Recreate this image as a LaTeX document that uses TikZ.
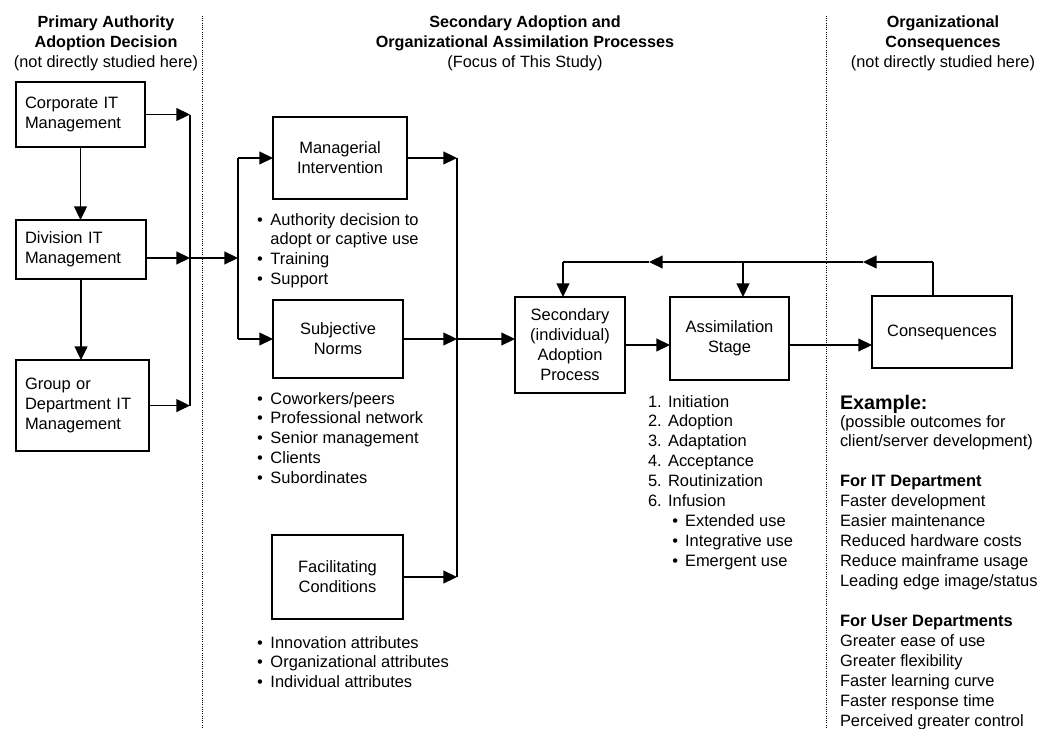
\documentclass[tikz,border=0pt]{standalone}
\usepackage{fontspec}
\setmainfont{Liberation Sans}
\usetikzlibrary{arrows.meta, calc, positioning}

\newcommand{\bodyfont}{\fontsize{11.7}{14.2}\selectfont}
\newcommand{\headfont}{\fontsize{11.5}{14.2}\selectfont\bfseries}
\newcommand{\subfont}{\fontsize{11.6}{14.2}\selectfont}

\tikzstyle{box} = [rectangle, draw=black, line width=1.05pt, inner sep=0pt, outer sep=0pt, font=\bodyfont, align=center]
\tikzstyle{leftbox} = [box, align=left, inner xsep=0.225cm]
\tikzstyle{list} = [inner sep=0pt, outer sep=0pt, font=\bodyfont, anchor=base west]
\tikzstyle{head} = [inner sep=0pt, outer sep=0pt, font=\bodyfont, anchor=base]
\tikzstyle{divider} = [densely dotted, line width=0.6pt]
\tikzset{
	FARROW/.style={line width=1.05pt, arrows={-Triangle[length=3.4mm, width=3.2mm]}},
	LINE/.style={line width=1.05pt}
}

\begin{document}
\begin{tikzpicture}[x=0.025cm, y=-0.025cm]
	\useasboundingbox (0,0) rectangle (1042,729);
	% column headers
	\node (hleft) [head] at (106,28) {\begin{tabular}[t]{@{}c@{}}\headfont Primary Authority\\ \headfont Adoption Decision\\ \subfont (not directly studied here)\end{tabular}};
	\node (hmid) [head] at (525,28) {\begin{tabular}[t]{@{}c@{}}\headfont Secondary Adoption and\\ \headfont Organizational Assimilation Processes\\ \subfont (Focus of This Study)\end{tabular}};
	\node (hright) [head] at (943,28) {\begin{tabular}[t]{@{}c@{}}\headfont Organizational\\ \headfont Consequences\\ \subfont (not directly studied here)\end{tabular}};
	% dividers
	\coordinate (dtopl) at (202,16);
	\coordinate (dbotl) at (202,729);
	\coordinate (dtopr) at (826,16);
	\coordinate (dbotr) at (826,729);
	\draw [divider] (dtopl) -- (dbotl);
	\draw [divider] (dtopr) -- (dbotr);
	% primary adoption
	\node (corp) [leftbox, minimum width=3.225cm, minimum height=1.625cm, text width=2.775cm, anchor=north west] at (16,82) {Corporate IT\\Management};
	\node (div) [leftbox, minimum width=3.25cm, minimum height=1.475cm, text width=2.8cm, below=1.825cm of corp.south west, anchor=north west] {Division IT\\Management};
	\node (grp) [leftbox, minimum width=3.325cm, minimum height=2.275cm, text width=2.875cm, below=2.025cm of div.south west, anchor=north west] {Group or\\Department IT\\Management};
	% secondary adoption
	\node (mgr) [box, minimum width=3.35cm, minimum height=2.05cm] at (340,158) {Managerial\\Intervention};
	\node (subj) [box, minimum width=3.25cm, minimum height=1.95cm] at (338,339) {Subjective\\Norms};
	\node (fac) [box, minimum width=3.275cm, minimum height=2.1cm] at (337.5,577) {Facilitating\\Conditions};
	\node (sec) [box, minimum width=2.75cm, minimum height=2.4cm] at (570,345) {Secondary\\(individual)\\Adoption\\Process};
	\node (assim) [box, minimum width=2.975cm, minimum height=2.075cm] at (729.5,338.5) {Assimilation\\Stage};
	\node (cons) [box, minimum width=3.5cm, minimum height=1.8cm] at (942,332) {Consequences};
	% lists
	\node (mgrlist) [list] at (257,225) {\begin{tabular}[t]{@{}l@{\hspace{5.5pt}}l@{}}\textbullet & Authority decision to\\ & adopt or captive use\\ \textbullet & Training\\ \textbullet & Support\end{tabular}};
	\node (subjlist) [list] at (257,404) {\begin{tabular}[t]{@{}l@{\hspace{5.5pt}}l@{}}\textbullet & Coworkers/peers\\ \textbullet & Professional network\\ \textbullet & Senior management\\ \textbullet & Clients\\ \textbullet & Subordinates\end{tabular}};
	\node (faclist) [list] at (257,648) {\begin{tabular}[t]{@{}l@{\hspace{5.5pt}}l@{}}\textbullet & Innovation attributes\\ \textbullet & Organizational attributes\\ \textbullet & Individual attributes\end{tabular}};
	\node (stages) [list] at (648,407) {\begin{tabular}[t]{@{}l@{\hspace{4.5pt}}l@{}}1. & Initiation\\ 2. & Adoption\\ 3. & Adaptation\\ 4. & Acceptance\\ 5. & Routinization\\ 6. & Infusion\\ & \hspace{3pt}\textbullet\hspace{5pt}Extended use\\ & \hspace{3pt}\textbullet\hspace{5pt}Integrative use\\ & \hspace{3pt}\textbullet\hspace{5pt}Emergent use\end{tabular}};
	% consequences example
	\node (example) [list, font=\fontsize{14}{16}\selectfont\bfseries] at (840,409) {Example:};
	\node (outcomes) [list] at (840,427) {\begin{tabular}[t]{@{}l@{}}(possible outcomes for\\ client/server development)\\ \\ \textbf{For IT Department}\\ Faster development\\ Easier maintenance\\ Reduced hardware costs\\ Reduce mainframe usage\\ Leading edge image/status\\ \\ \textbf{For User Departments}\\ Greater ease of use\\ Greater flexibility\\ Faster learning curve\\ Faster response time\\ Perceived greater control\end{tabular}};
	% junctions
	\coordinate (lbus) at (190,118);
	\coordinate (hub) at (238,258);
	\coordinate (rbus) at (457,342);
	\coordinate (fbtop) at (933,262);
	\coordinate (fbtip1) at (863,262);
	\coordinate (fbtip2) at (649,262);
	\coordinate (fbmid) at (743,262);
	\coordinate (fbleft) at (563,262);
	% primary connectors
	\draw [FARROW] (corp.south) -- (corp.south |- div.north);
	\draw [FARROW] (div.south) -- (div.south |- grp.north);
	\draw [FARROW] (corp.east) -- (corp.east -| lbus);
	\draw [FARROW] (div.east |- hub) -- (lbus |- hub);
	\draw [FARROW] (grp.east) -- (grp.east -| lbus);
	\draw [LINE] (lbus |- corp.east) -- (lbus |- grp.east);
	\draw [FARROW] (lbus |- hub) -- (hub);
	% secondary connectors
	\draw [LINE] (hub |- mgr.west) -- (hub |- subj.west);
	\draw [FARROW] (hub |- mgr.west) -- (mgr.west);
	\draw [FARROW] (hub |- subj.west) -- (subj.west);
	\draw [FARROW] (mgr.east) -- (mgr.east -| rbus);
	\draw [FARROW] (subj.east) -- (subj.east -| rbus);
	\draw [FARROW] (fac.east) -- (fac.east -| rbus);
	\draw [LINE] (rbus |- mgr.east) -- (rbus |- fac.east);
	\draw [FARROW] (rbus |- subj.east) -- (sec.west |- subj.east);
	\draw [FARROW] (sec.east) -- (assim.west |- sec.east);
	\draw [FARROW] (assim.east |- sec.east) -- (cons.west |- sec.east);
	% feedback
	\draw [LINE] (cons.north -| fbtop) -- (fbtop);
	\draw [FARROW] (fbtop) -- (fbtip1);
	\draw [FARROW] (fbtip1) -- (fbtip2);
	\draw [LINE] (fbtip2) -- (fbleft);
	\draw [FARROW] (fbleft) -- (fbleft |- sec.north);
	\draw [FARROW] (fbmid) -- (fbmid |- assim.north);
\end{tikzpicture}
\end{document}
